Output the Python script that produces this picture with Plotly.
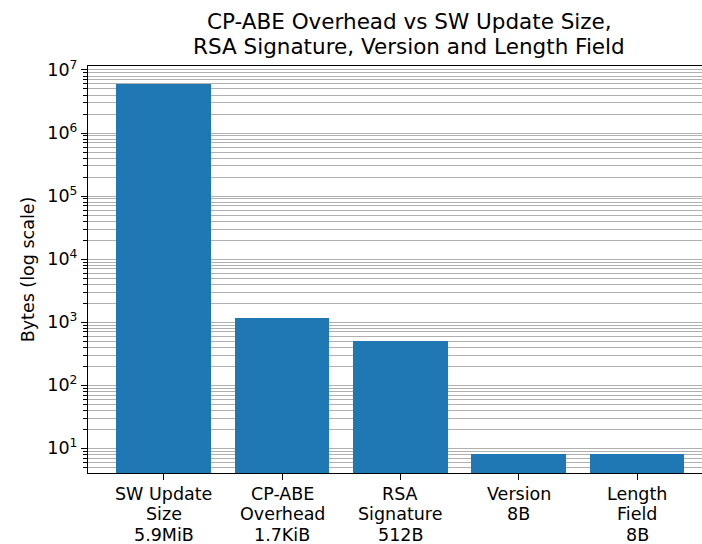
import plotly.graph_objects as go

categories = ["SW Update<br>Size<br>5.9MiB", "CP-ABE<br>Overhead<br>1.7KiB",
              "RSA<br>Signature<br>512B", "Version<br>8B", "Length<br>Field<br>8B"]
values = [5.9e6, 1160, 512, 8, 8]
y_major = [1e1, 1e2, 1e3, 1e4, 1e5, 1e6, 1e7]
y_major_text = ["10<sup>1</sup>", "10<sup>2</sup>", "10<sup>3</sup>", "10<sup>4</sup>",
                "10<sup>5</sup>", "10<sup>6</sup>", "10<sup>7</sup>"]
y_minor = [k * 10 ** n for n in range(0, 8) for k in range(2, 10)]
title_lines = ["CP-ABE Overhead vs SW Update Size,", "RSA Signature, Version and Length Field"]

x = list(range(len(categories)))
FONT = "DejaVu Sans"

fig = go.Figure(go.Bar(x=x, y=values, width=0.8, marker=dict(color="#1f77b4", line=dict(width=0)),
                       hoverinfo="skip"))

annotations = []
for xi, cat in zip(x, categories):
    for i, line in enumerate(cat.split("<br>")):
        annotations.append(dict(
            x=xi, xref="x", y=0, yref="paper", yanchor="middle", xanchor="center",
            yshift=-(21 + i * 20.4), text=line, showarrow=False,
            font=dict(family=FONT, size=17.5, color="black")))
for i, line in enumerate(title_lines):
    annotations.append(dict(
        x=(409 - 88) / 614, xref="paper", y=1, yref="paper", yanchor="middle", xanchor="center",
        yshift=(66 - 21) - i * 25, text=line, showarrow=False,
        font=dict(family=FONT, size=21.5, color="black")))

fig.update_layout(
    width=702, height=544,
    margin=dict(l=88, r=0, t=66, b=71, autoexpand=False),
    paper_bgcolor="white", plot_bgcolor="white",
    font=dict(family=FONT, size=17, color="black"),
    showlegend=False,
    bargap=0,
    annotations=annotations,
)

fig.update_xaxes(
    range=[-0.64, 4.548], automargin=False,
    tickmode="array", tickvals=x, showticklabels=False,
    ticks="outside", ticklen=6, tickwidth=1.2, tickcolor="black",
    showline=True, linecolor="black", linewidth=1.2, mirror=True,
    showgrid=False, zeroline=False,
)

fig.update_yaxes(
    type="log", range=[0.608, 7.063], automargin=False,
    tickmode="array", tickvals=y_major, ticktext=y_major_text,
    ticks="outside", ticklen=6, tickwidth=1.2, tickcolor="black",
    showline=True, linecolor="black", linewidth=1.2,
    showgrid=True, gridcolor="#b0b0b0", gridwidth=1.1,
    zeroline=False,
    minor=dict(tickmode="array", tickvals=y_minor, ticks="outside", ticklen=3.5,
               tickwidth=1, tickcolor="black", showgrid=True, gridcolor="#b0b0b0", gridwidth=1.1),
    tickfont=dict(family=FONT, size=17.5, color="black"),
    title=dict(text="Bytes (log scale)", standoff=8, font=dict(family=FONT, size=17.5, color="black")),
)

fig.write_html("out.html", config={"displayModeBar": False},
               post_script="document.body.style.margin='0';document.body.style.overflow='hidden';")
